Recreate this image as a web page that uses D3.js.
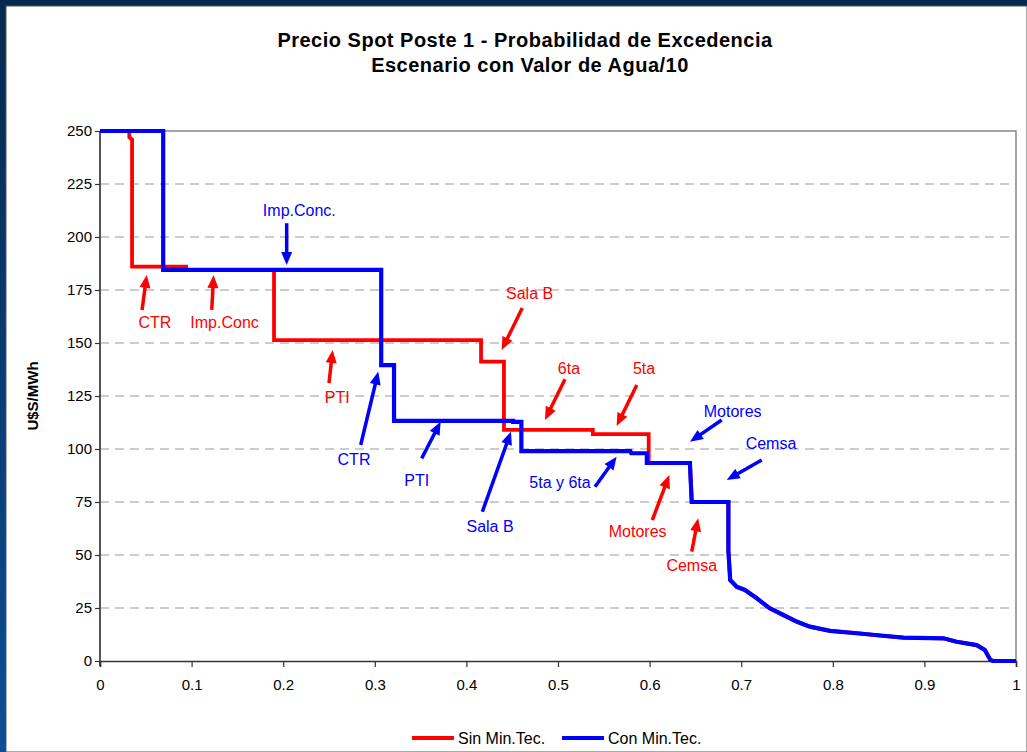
<!DOCTYPE html>
<html>
<head>
<meta charset="utf-8">
<script src="https://cdn.jsdelivr.net/npm/d3@7"></script>
<style>
  body { margin: 0; background: #fff; }
  svg { display: block; }
  text { font-family: "Liberation Sans", Arial, sans-serif; }
</style>
</head>
<body>
<svg id="chart" width="1027" height="752"></svg>
<script>
// ---- Data: exceedance probability vs. spot price (U$S/MWh) ----
// "Sin Min.Tec." case (breakpoints of the step curve)
const probSin = [0, 0.032, 0.032, 0.035, 0.035, 0.094, 0.094, 0.190, 0.190, 0.416, 0.416, 0.441, 0.441,
  0.538, 0.538, 0.599, 0.599, 0.644, 0.646, 0.686, 0.686, 0.688, 0.695, 0.704, 0.717, 0.731, 0.746,
  0.761, 0.775, 0.797, 0.826, 0.855, 0.877, 0.921, 0.935, 0.957, 0.966, 0.972, 0.975, 1.0];
const priceSin = [250, 250, 247, 246, 186, 186, 184.5, 184.5, 151.4, 151.4, 141.2, 141.2, 109,
  109, 107, 107, 93.4, 93.4, 75, 75, 52, 38.2, 35, 33.5, 29.6, 24.9, 21.7,
  18.5, 16.2, 14.2, 13.1, 11.9, 11.0, 10.7, 9.1, 7.5, 5.2, 0.5, 0, 0];

// "Con Min.Tec." case
const probCon = [0, 0.069, 0.069, 0.307, 0.307, 0.321, 0.321, 0.451, 0.451, 0.460, 0.460, 0.579, 0.580,
  0.597, 0.597, 0.644, 0.646, 0.686, 0.686, 0.688, 0.695, 0.704, 0.717, 0.731, 0.746,
  0.761, 0.775, 0.797, 0.826, 0.855, 0.877, 0.921, 0.935, 0.957, 0.966, 0.972, 0.975, 1.0];
const priceCon = [250, 250, 184.5, 184.5, 139.6, 139.6, 113.3, 113.3, 112.8, 112.8, 99, 99, 98,
  98, 93.4, 93.4, 75, 75, 52, 38.2, 35, 33.5, 29.6, 24.9, 21.7,
  18.5, 16.2, 14.2, 13.1, 11.9, 11.0, 10.7, 9.1, 7.5, 5.2, 0.5, 0, 0];

const seriesNames = ["Sin Min.Tec.", "Con Min.Tec."];
const seriesColors = ["#ff0000", "#0000ff"];

// Axis ticks
const yTickValues = [0, 25, 50, 75, 100, 125, 150, 175, 200, 225, 250];
const xTickValues = [0, 0.1, 0.2, 0.3, 0.4, 0.5, 0.6, 0.7, 0.8, 0.9, 1];
const xTickLabels = ["0", "0.1", "0.2", "0.3", "0.4", "0.5", "0.6", "0.7", "0.8", "0.9", "1"];

// Annotations: label, colour, label centre, arrow tail and arrow tip (data units)
const noteLabels = ["CTR", "Imp.Conc", "PTI", "Sala B", "6ta", "5ta", "Motores", "Cemsa",
  "Imp.Conc.", "CTR", "PTI", "Sala B", "5ta y 6ta", "Motores", "Cemsa"];
const noteSeries = [0, 0, 0, 0, 0, 0, 0, 0, 1, 1, 1, 1, 1, 1, 1];
const noteX = [0.060, 0.136, 0.259, 0.469, 0.512, 0.594, 0.587, 0.646,
  0.2176, 0.2773, 0.3457, 0.4258, 0.5022, 0.6907, 0.7325];
const noteY = [159.9, 159.9, 124.5, 173.6, 138.2, 138.2, 61.0, 45.3,
  212.7, 95.1, 85.0, 63.4, 84.4, 117.9, 102.8];
const arrowFromX = [0.0459, 0.122, 0.250, 0.461, 0.5076, 0.586, 0.603, 0.646,
  0.2038, 0.2846, 0.3512, 0.4174, 0.5404, 0.6787, 0.7224];
const arrowFromY = [165.6, 165.6, 131.1, 166.5, 132.9, 130.2, 66.5, 51.6,
  206.5, 101.9, 95.6, 70.4, 82.2, 113.7, 94.8];
const arrowToX = [0.051, 0.124, 0.254, 0.4385, 0.4858, 0.564, 0.6215, 0.653,
  0.2038, 0.3038, 0.3719, 0.4487, 0.564, 0.6441, 0.6842];
const arrowToY = [182.1, 182.1, 146.7, 146.7, 113.7, 110.8, 87.7, 67.3,
  186.8, 136.5, 112.9, 108.2, 96.4, 103.4, 85.4];

// ---- Layout ----
const W = 1027, H = 752;
const plot = { left: 100, right: 1016, top: 131, bottom: 661 };

const svg = d3.select("#chart");

// Slide background and white panel
const defs = svg.append("defs");
const grad = defs.append("linearGradient").attr("id", "bg").attr("x1", 0).attr("y1", 0).attr("x2", 0).attr("y2", 1);
grad.append("stop").attr("offset", "0%").attr("stop-color", "#062a4d");
grad.append("stop").attr("offset", "100%").attr("stop-color", "#0e4d96");
svg.append("rect").attr("width", W).attr("height", H).attr("fill", "url(#bg)");
svg.append("rect").attr("x", 6).attr("y", 6).attr("width", W - 6).attr("height", H - 6)
  .attr("fill", "#ffffff").attr("stroke", "#555").attr("stroke-width", 1);

const x = d3.scaleLinear().domain([0, 1]).range([plot.left, plot.right]);
const y = d3.scaleLinear().domain([0, 250]).range([plot.bottom, plot.top]);

// Gridlines (dashed)
svg.append("g").selectAll("line")
  .data(yTickValues.filter(v => v > 0 && v < 250))
  .join("line")
  .attr("x1", plot.left).attr("x2", plot.right)
  .attr("y1", d => y(d)).attr("y2", d => y(d))
  .attr("stroke", "#999").attr("stroke-width", 1.2)
  .attr("stroke-dasharray", "9,6");

// Plot frame (top and right)
svg.append("path")
  .attr("d", `M${plot.left},${y(250)}H${plot.right}V${plot.bottom}`)
  .attr("fill", "none").attr("stroke", "#888").attr("stroke-width", 1.5);

// Axes
const yAxis = svg.append("g").attr("transform", `translate(${plot.left},0)`)
  .call(d3.axisLeft(y).tickValues(yTickValues).tickSize(5).tickPadding(3).tickFormat(d3.format("d")));
const xAxis = svg.append("g").attr("transform", `translate(0,${plot.bottom})`)
  .call(d3.axisBottom(x).tickValues(xTickValues).tickSize(6).tickPadding(12)
    .tickFormat((d, i) => xTickLabels[i]));

[yAxis, xAxis].forEach(g => {
  g.select(".domain").attr("stroke", "#333").attr("stroke-width", 1.6);
  g.selectAll(".tick line").attr("stroke", "#333").attr("stroke-width", 1.2);
  g.selectAll(".tick text").attr("font-size", 15).attr("fill", "#000")
    .attr("font-family", '"Liberation Sans", Arial, sans-serif');
});
yAxis.select(".domain").attr("d", `M0,${plot.top}V${plot.bottom + 5}`).attr("stroke", "#555").attr("stroke-width", 2);

// Series lines
const line = d3.line().x(d => x(d[0])).y(d => y(d[1]));
const seriesData = [
  d3.zip(probSin, priceSin),
  d3.zip(probCon, priceCon)
];
const seriesWidths = [3.8, 4.2];
seriesData.forEach((pts, i) => {
  svg.append("path").datum(pts)
    .attr("d", line)
    .attr("fill", "none")
    .attr("stroke", seriesColors[i])
    .attr("stroke-width", seriesWidths[i])
    .attr("stroke-linejoin", "miter");
});

// Annotations with arrows
const headLen = 13, headHalf = 5.5;
noteLabels.forEach((lab, i) => {
  const col = seriesColors[noteSeries[i]];
  const x1 = x(arrowFromX[i]), y1 = y(arrowFromY[i]);
  const x2 = x(arrowToX[i]), y2 = y(arrowToY[i]);
  const dx = x2 - x1, dy = y2 - y1, len = Math.hypot(dx, dy);
  const ux = dx / len, uy = dy / len;
  const bx = x2 - ux * headLen, by = y2 - uy * headLen;
  svg.append("line")
    .attr("x1", x1).attr("y1", y1)
    .attr("x2", x2 - ux * headLen * 0.7).attr("y2", y2 - uy * headLen * 0.7)
    .attr("stroke", col).attr("stroke-width", 3.5);
  svg.append("path")
    .attr("d", `M${x2},${y2}L${bx - uy * headHalf},${by + ux * headHalf}L${bx + uy * headHalf},${by - ux * headHalf}Z`)
    .attr("fill", col);
  svg.append("text")
    .attr("x", x(noteX[i])).attr("y", y(noteY[i]))
    .attr("dy", "0.35em")
    .attr("text-anchor", "middle")
    .attr("font-size", 16)
    .attr("fill", col)
    .text(lab);
});

// Titles
svg.append("text").attr("x", 525).attr("y", 47).attr("text-anchor", "middle")
  .attr("font-size", 20).attr("font-weight", "bold").attr("letter-spacing", 0.5)
  .text("Precio Spot Poste 1 - Probabilidad de Excedencia");
svg.append("text").attr("x", 530).attr("y", 72).attr("text-anchor", "middle")
  .attr("font-size", 20).attr("font-weight", "bold").attr("letter-spacing", 0.5)
  .text("Escenario con Valor de Agua/10");

// Y-axis title
svg.append("text")
  .attr("transform", `translate(38,${(plot.top + plot.bottom) / 2}) rotate(-90)`)
  .attr("text-anchor", "middle")
  .attr("font-size", 15).attr("font-weight", "bold")
  .text("U$S/MWh");

// Legend
const legendX = [412, 562];
seriesNames.forEach((name, i) => {
  const g = svg.append("g").attr("transform", `translate(${legendX[i]},738)`);
  g.append("line").attr("x1", 0).attr("x2", 42).attr("y1", 0).attr("y2", 0)
    .attr("stroke", seriesColors[i]).attr("stroke-width", 4);
  g.append("text").attr("x", 46).attr("y", 0).attr("dy", "0.35em")
    .attr("font-size", 16).attr("fill", "#000").text(name);
});
</script>
</body>
</html>
